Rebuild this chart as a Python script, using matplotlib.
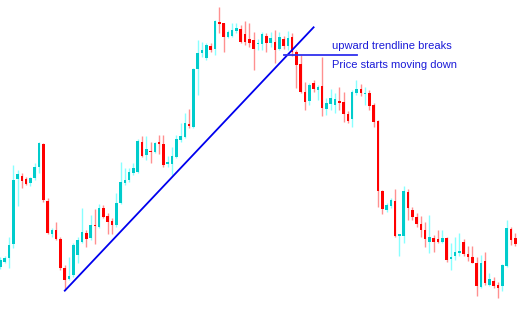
import matplotlib
matplotlib.use("Agg")
import matplotlib.pyplot as plt
import numpy as np

# OHLC values (arbitrary price scale)
opens = [53, 58, 62, 76, 141, 144, 141, 137, 142, 153, 176, 119, 86, 90, 81, 52, 41, 45, 65, 78,
         87, 82, 95, 93, 112, 104, 99, 95, 117, 137, 140, 147, 148, 178, 165, 169, 168, 178, 176, 156,
         156, 163, 180, 183, 196, 193, 251, 267, 262, 274, 271, 298, 297, 283, 284, 289, 291, 286, 281, 280,
         276, 276, 284, 277, 278, 271, 281, 274, 283, 268, 256, 228, 219, 237, 230, 234, 211, 216, 215, 219,
         218, 206, 201, 227, 231, 226, 227, 215, 199, 129, 110, 114, 119, 84, 84, 128, 110, 103, 96, 90,
         78, 82, 81, 78, 82, 61, 64, 67, 78, 66, 63, 57, 33, 59, 35, 39, 35, 34, 54, 91, 82]
highs = [63, 64, 83, 155, 150, 147, 143, 143, 157, 178, 177, 122, 92, 98, 83, 55, 63, 77, 83, 112,
         90, 105, 111, 116, 115, 107, 102, 127, 158, 152, 152, 157, 181, 184, 184, 178, 178, 185, 185, 164,
         173, 185, 197, 207, 211, 252, 280, 278, 277, 277, 300, 313, 297, 290, 297, 297, 295, 299, 297, 288,
         281, 288, 287, 288, 290, 288, 284, 289, 287, 270, 265, 238, 237, 240, 235, 263, 222, 231, 227, 233,
         228, 209, 230, 240, 236, 233, 230, 217, 200, 130, 117, 122, 131, 86, 134, 131, 113, 107, 104, 98,
         105, 85, 90, 90, 83, 77, 83, 87, 81, 74, 74, 63, 65, 68, 47, 43, 38, 56, 100, 93, 87]
lows = [51, 57, 52, 72, 114, 132, 135, 134, 140, 147, 118, 86, 83, 80, 50, 30, 40, 43, 57, 77,
        73, 80, 76, 92, 102, 86, 86, 93, 116, 135, 138, 145, 147, 163, 160, 157, 167, 166, 153, 153,
        145, 162, 178, 182, 192, 192, 225, 263, 260, 268, 265, 287, 268, 282, 283, 287, 277, 275, 273, 250,
        270, 270, 268, 273, 257, 270, 271, 270, 264, 232, 227, 210, 215, 228, 220, 204, 205, 210, 207, 210,
        198, 197, 193, 225, 224, 215, 210, 193, 113, 106, 108, 112, 83, 64, 77, 100, 100, 93, 83, 73,
        67, 68, 77, 77, 58, 50, 60, 64, 64, 59, 57, 24, 32, 35, 34, 32, 22, 29, 53, 75, 74]
closes = [60, 62, 75, 140, 146, 139, 136, 142, 153, 177, 120, 87, 90, 81, 52, 40, 44, 75, 80, 88,
          81, 95, 94, 112, 103, 98, 95, 117, 138, 140, 148, 152, 179, 164, 171, 168, 177, 176, 155, 158,
          164, 181, 184, 197, 194, 251, 267, 270, 275, 270, 299, 296, 283, 288, 290, 292, 278, 278, 277, 271,
          277, 286, 277, 282, 270, 283, 274, 282, 268, 255, 228, 218, 235, 231, 233, 212, 217, 222, 221, 217,
          206, 199, 228, 231, 227, 227, 214, 198, 129, 111, 115, 120, 84, 86, 129, 112, 103, 96, 90, 81,
          83, 78, 78, 82, 60, 63, 68, 69, 66, 63, 57, 34, 57, 37, 41, 34, 32, 55, 92, 80, 76]

# annotation lines (x in bar index, y in price)
trend_x = [15.0, 73.0]
trend_y = [29.3, 292.7]
break_x = [66.0, 83.2]
break_y = [265.5, 265.5]
labels = ["upward trendline breaks", "Price starts moving down"]
label_x = [77.4, 77.4]
label_y = [271.3, 251.7]

BULL_BODY, BULL_WICK = "#00CCCC", "#88FFFF"
BEAR_BODY, BEAR_WICK = "#FF0000", "#FF9090"

fig = plt.figure(figsize=(5.29, 3.13), dpi=100)
ax = fig.add_axes([0, 0, 1, 1])
ax.set_axis_off()

o = np.array(opens, float)
h = np.array(highs, float)
l = np.array(lows, float)
c = np.array(closes, float)
x = np.arange(len(o))
bull = c >= o

wick_colors = [BULL_WICK if b else BEAR_WICK for b in bull]
body_colors = [BULL_BODY if b else BEAR_BODY for b in bull]

ax.vlines(x, l, h, colors=wick_colors, linewidth=1.0, zorder=1)
bottom = np.minimum(o, c)
height = np.maximum(np.abs(c - o), 1.2)
ax.bar(x, height, bottom=bottom, width=0.6, color=body_colors, linewidth=0, zorder=2)

ax.plot(trend_x, trend_y, color="#0000EE", linewidth=1.3, zorder=3)
ax.plot(break_x, break_y, color="#3030EE", linewidth=1.3, zorder=3)

for t, tx, ty in zip(labels, label_x, label_y):
    ax.text(tx, ty, t, fontsize=8, family="Liberation Sans", color="#1A1AD8",
            ha="left", va="baseline", zorder=4)

ax.set_xlim(-0.1, 529 / 4.29 - 0.1)
ax.set_ylim(7, 320)

fig.savefig("out.png", dpi=100, facecolor="white")
